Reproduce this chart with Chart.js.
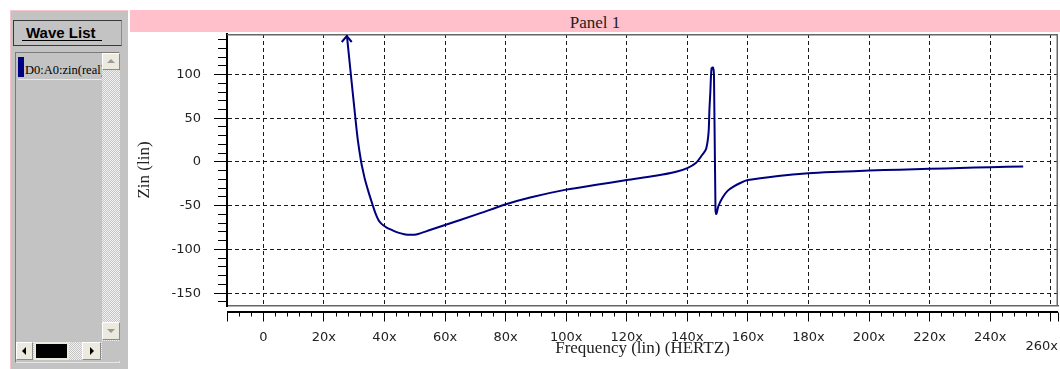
<!DOCTYPE html>
<html>
<head>
<meta charset="utf-8">
<script src="https://cdn.jsdelivr.net/npm/chart.js@4.4.1/dist/chart.umd.min.js"></script>
<style>
  html, body { margin: 0; padding: 0; background: #fff; width: 1060px; height: 369px; overflow: hidden; }
  body { position: relative; }
  .abs { position: absolute; box-sizing: border-box; }
  #wavePanel { left: 10px; top: 10px; width: 118px; height: 359px; background: #c3c3c3;
               border-left: 1px solid #f2c4cc; border-top: 1px solid #f2c4cc; }
  #waveHead { left: 13px; top: 20px; width: 109px; height: 26px; background: #c3c3c3;
              border-top: 1px solid #3a3a3a; border-left: 1px solid #3a3a3a; border-bottom: 1px solid #3a3a3a; border-right: 1px solid #8a8a8a; }
  #waveHeadText { left: 26px; top: 24px; font: bold 15px "Liberation Sans", Arial, sans-serif; color: #000; white-space: nowrap; }
  #waveHeadLine { left: 22px; top: 40px; width: 80px; height: 1px; background: #000; }
  #listBox { left: 15px; top: 52px; width: 105px; height: 311px; background: #c3c3c3;
             border-top: 1px solid #7a7a7a; border-left: 1px solid #7a7a7a; border-right: 1px solid #e6e6e6; border-bottom: 1px solid #e6e6e6; }
  #itemBar { left: 18px; top: 57px; width: 6px; height: 20px; background: #000080; }
  #itemText { left: 25px; top: 62px; width: 77px; height: 17px; overflow: hidden; white-space: nowrap;
              font: 12.5px "Liberation Serif", "Times New Roman", serif; color: #000; line-height: 17px; }
  #itemLine { left: 18px; top: 79px; width: 84px; height: 1px; background: #e8e8e8; }
  .dither { background-color: #c8c8c8;
            background-image: repeating-conic-gradient(#f2f2f2 0 25%, #c4c4c4 0 50%);
            background-size: 2px 2px; }
  #vScroll { left: 102px; top: 53px; width: 18px; height: 288px; }
  #hScroll { left: 16px; top: 342px; width: 86px; height: 18px; }
  .btn { background: #ece9de; border-top: 1px solid #fff; border-left: 1px solid #fff;
         border-right: 1px solid #8a8a8a; border-bottom: 1px solid #8a8a8a; }
  #upBtn { left: 102px; top: 53px; width: 18px; height: 17px; }
  #downBtn { left: 102px; top: 322px; width: 18px; height: 18px; }
  #leftBtn { left: 16px; top: 342px; width: 17px; height: 18px; }
  #rightBtn { left: 82px; top: 342px; width: 19px; height: 18px; }
  #thumb { left: 34px; top: 342px; width: 35px; height: 18px; background: #000; border: 2px solid #ece9de; }
  #corner { left: 102px; top: 341px; width: 18px; height: 20px; background: #c3c3c3; }
  .tri { position: absolute; width: 0; height: 0; }
  #upBtn .tri { left: 4px; top: 5px; border-left: 4px solid transparent; border-right: 4px solid transparent; border-bottom: 4px solid #9a9a9a; }
  #downBtn .tri { left: 4px; top: 6px; border-left: 4px solid transparent; border-right: 4px solid transparent; border-top: 4px solid #9a9a9a; }
  #leftBtn .tri { left: 5px; top: 4px; border-top: 4px solid transparent; border-bottom: 4px solid transparent; border-right: 4px solid #000; }
  #rightBtn .tri { left: 7px; top: 4px; border-top: 4px solid transparent; border-bottom: 4px solid transparent; border-left: 4px solid #000; }
  #band { left: 130px; top: 10px; width: 930px; height: 22px; background: #ffc0cb; overflow: hidden;
          text-align: center; font: 17px "Liberation Serif", "Times New Roman", serif; color: #222; line-height: 22px; }
  #band span { position: relative; top: 2px; }
  #chartBox { left: 130px; top: 0; width: 930px; height: 369px; }
</style>
</head>
<body>
  <div class="abs" id="wavePanel"></div>
  <div class="abs" id="waveHead"></div>
  <div class="abs" id="waveHeadText">Wave List</div>
  <div class="abs" id="waveHeadLine"></div>
  <div class="abs" id="listBox"></div>
  <div class="abs" id="itemBar"></div>
  <div class="abs" id="itemText">D0:A0:zin(real)</div>
  <div class="abs" id="itemLine"></div>
  <div class="abs dither" id="vScroll"></div>
  <div class="abs dither" id="hScroll"></div>
  <div class="abs btn" id="upBtn"><div class="tri"></div></div>
  <div class="abs btn" id="downBtn"><div class="tri"></div></div>
  <div class="abs btn" id="leftBtn"><div class="tri"></div></div>
  <div class="abs btn" id="rightBtn"><div class="tri"></div></div>
  <div class="abs" id="thumb"></div>
  <div class="abs" id="corner"></div>
  <div class="abs" id="band"><span>Panel 1</span></div>
  <div class="abs" id="chartBox"><canvas id="zinChart" width="930" height="369"></canvas></div>

<script>
// Real part of the input impedance against frequency
const freq = [27.2, 28.9, 30.4, 31.2, 32.3, 32.9, 33.6, 34.8, 36.1, 37.0, 38.0, 38.8, 39.7, 40.6,
              41.8, 43.2, 44.8, 46.5, 48.5, 50.5, 55, 60, 70, 80.4, 88.1, 100, 110, 120, 130, 136,
              140, 142.8, 145.0, 146.2, 147.0, 147.3, 147.6, 148.0, 148.5, 148.8, 149.3, 149.6,
              150.3, 151.7, 153.3, 155.1, 157.5, 160, 170, 180, 190, 200, 210, 220, 230, 240, 250.9];
const zin = [158, 100, 50, 25, 0, -10, -20.6, -35, -49.2, -58.5, -66.3, -69.8, -72.6, -74.6,
             -76.8, -79, -81, -82.5, -83.2, -82.8, -77.8, -72, -60.5, -48, -40.5, -31.6, -26, -20.7,
             -15.5, -11.5, -7.0, -1.2, 8.6, 15, 33, 60, 80, 107, 108, 100, -55, -59.5,
             -50, -40.2, -33, -28.5, -24, -20.7, -16, -12.9, -11.2, -9.8, -8.8, -7.8, -6.8, -5.9, -5.1];

// Axis ticks and labels
const xTickValues = [0, 20, 40, 60, 80, 100, 120, 140, 160, 180, 200, 220, 240];
const xTickLabels = ['0', '20x', '40x', '60x', '80x', '100x', '120x', '140x', '160x', '180x', '200x', '220x', '240x'];
const xEdgeValue = 260;
const xEdgeLabel = '260x';
const yTickValues = [-150, -100, -50, 0, 50, 100];
const yTickLabels = ['-150', '-100', '-50', '0', '50', '100'];
const xRange = [-12, 262.4];
const yRange = [-164.6, 146.3];
const xMinorStep = 4;
const yMinorStep = 10;

const tickFont = { family: '"DejaVu Sans", Verdana, sans-serif', size: 13 };
const titleFont = { family: '"Liberation Serif", "Times New Roman", serif', size: 17 };
const inkColor = '#222';
const traceColor = '#00007f';

const isXMajor = (v) => xTickValues.includes(v) || v === xEdgeValue;
const isYMajor = (v) => yTickValues.includes(v);

// Frame, offset x ruler, clipped-trace arrow and the last x label
const panelDecor = {
  id: 'panelDecor',
  afterDatasetsDraw(chart) {
    const { ctx, chartArea: a, scales: { x, y } } = chart;
    ctx.save();
    // top and right edges of the plot frame
    ctx.strokeStyle = '#666';
    ctx.lineWidth = 1.5;
    ctx.beginPath();
    ctx.moveTo(a.left, a.top + 0.75);
    ctx.lineTo(a.right - 0.75, a.top + 0.75);
    ctx.lineTo(a.right - 0.75, a.bottom);
    ctx.stroke();

    // ruler line of the frequency axis
    ctx.strokeStyle = '#000';
    ctx.lineWidth = 2;
    ctx.beginPath();
    ctx.moveTo(a.left, a.bottom + 6);
    ctx.lineTo(a.right, a.bottom + 6);
    ctx.stroke();

    // arrow where the trace leaves the top of the plot
    const yMax = y.max;
    for (let i = 1; i < freq.length; i++) {
      if (zin[i - 1] > yMax && zin[i] <= yMax) {
        const t = (zin[i - 1] - yMax) / (zin[i - 1] - zin[i]);
        const fx = freq[i - 1] + t * (freq[i] - freq[i - 1]);
        const px = x.getPixelForValue(fx);
        const py = y.getPixelForValue(yMax) + 2;
        ctx.strokeStyle = traceColor;
        ctx.lineWidth = 2;
        ctx.beginPath();
        ctx.moveTo(px - 5, py + 6);
        ctx.lineTo(px, py);
        ctx.lineTo(px + 5, py + 6);
        ctx.stroke();
        break;
      }
    }

    // last frequency label, kept inside the panel
    ctx.font = tickFont.size + 'px ' + tickFont.family;
    ctx.fillStyle = inkColor;
    ctx.textAlign = 'right';
    ctx.textBaseline = 'middle';
    const w = ctx.measureText(xEdgeLabel).width;
    const px = x.getPixelForValue(xEdgeValue);
    ctx.fillText(xEdgeLabel, Math.min(px + w / 2, a.right), a.bottom + 41);
    ctx.restore();
  }
};

new Chart(document.getElementById('zinChart'), {
  type: 'line',
  data: {
    datasets: [{
      label: 'D0:A0:zin(real)',
      data: freq.map((f, i) => ({ x: f, y: zin[i] })),
      borderColor: traceColor,
      borderWidth: 2,
      pointRadius: 0,
      tension: 0.3,
      fill: false
    }]
  },
  options: {
    responsive: false,
    animation: false,
    layout: { padding: { top: 34, right: 2, left: 0, bottom: 0 } },
    plugins: { legend: { display: false }, tooltip: { enabled: false }, title: { display: false } },
    scales: {
      x: {
        type: 'linear',
        min: xRange[0],
        max: xRange[1],
        afterBuildTicks(scale) {
          const t = [];
          for (let v = xRange[0]; v <= xEdgeValue; v += xMinorStep) t.push({ value: v });
          t.push({ value: xRange[1] });
          scale.ticks = t;
        },
        afterFit(scale) { scale.height = 63; },
        ticks: {
          autoSkip: false,
          maxRotation: 0,
          padding: 0,
          font: tickFont,
          color: inkColor,
          callback(value) {
            const i = xTickValues.indexOf(value);
            return i >= 0 ? xTickLabels[i] : '';
          }
        },
        grid: {
          drawOnChartArea: true,
          drawTicks: true,
          tickLength: 24,
          lineWidth: 1,
          color: (c) => (c.tick && isXMajor(c.tick.value) ? '#1a1a1a' : 'rgba(0,0,0,0)'),
          tickColor: '#000',
          tickWidth: 1,
          tickBorderDash: (c) => {
            const n = c.scale.ticks.length;
            const major = c.tick && (isXMajor(c.tick.value) || c.index === 0 || c.index === n - 1);
            return major ? [0, 6, 9, 100] : [0, 6, 4, 100];
          }
        },
        border: { display: true, color: '#666', width: 1.5, dash: [4, 3] },
        title: {
          display: true,
          text: 'Frequency (lin) (HERTZ)',
          font: titleFont,
          color: inkColor,
          padding: { top: 0, bottom: 10 }
        }
      },
      y: {
        type: 'linear',
        min: yRange[0],
        max: yRange[1],
        afterBuildTicks(scale) {
          const t = [];
          for (let v = -160; v <= 140; v += yMinorStep) t.push({ value: v });
          scale.ticks = t;
        },
        afterFit(scale) { scale.width = 97; },
        ticks: {
          autoSkip: false,
          padding: 0,
          font: tickFont,
          color: inkColor,
          callback(value) {
            const i = yTickValues.indexOf(value);
            return i >= 0 ? yTickLabels[i] : '';
          }
        },
        grid: {
          drawOnChartArea: true,
          drawTicks: true,
          tickLength: 26,
          lineWidth: 1,
          color: (c) => (c.tick && isYMajor(c.tick.value) ? '#1a1a1a' : 'rgba(0,0,0,0)'),
          tickColor: '#000',
          tickWidth: 1,
          tickBorderDash: (c) => (c.tick && isYMajor(c.tick.value) ? [0, 13, 13, 100] : [0, 17, 9, 100])
        },
        border: { display: true, color: '#000', width: 2, dash: [4, 3] },
        title: {
          display: true,
          text: 'Zin (lin)',
          font: titleFont,
          color: inkColor,
          padding: { top: 4, bottom: 0 }
        }
      }
    }
  },
  plugins: [panelDecor]
});
</script>
</body>
</html>
